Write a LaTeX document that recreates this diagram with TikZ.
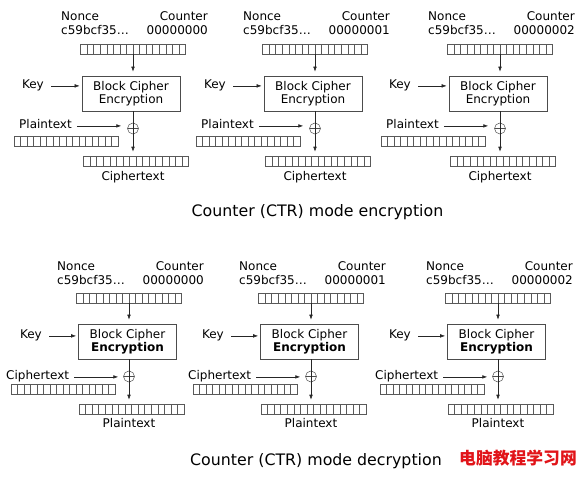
\documentclass[tikz,border=0pt]{standalone}
\usepackage{fontspec}
\setmainfont{DejaVu Sans}
\newfontfamily\cjkfont{Noto Sans CJK SC}
\usetikzlibrary{
    arrows.meta,
    calc,
    positioning
}
\newcommand{\lblfont}{\fontsize{12}{13.5}\selectfont}
\newcommand{\ttlfont}{\fontsize{15.8}{18}\selectfont}

\tikzset{
  lbl/.style={inner sep=0pt, font=\lblfont, text height=8.7pt, text depth=2.5pt},
  cellrow/.style={draw=black!65, line width=0.5pt, minimum width=105pt,
    minimum height=10pt, inner sep=0pt,
    path picture={
      \foreach \j in {1,...,15}{
        \draw[black!65, line width=0.45pt]
          ($(path picture bounding box.south west)!\j/16!(path picture bounding box.south east)$)
          -- ($(path picture bounding box.north west)!\j/16!(path picture bounding box.north east)$);
      }
    }},
  cipherbox/.style={draw=black!70, line width=0.6pt, minimum width=98pt,
    minimum height=35pt, inner sep=0pt, align=center, font=\lblfont},
  xorc/.style={circle, draw=black!70, line width=0.5pt, minimum size=11pt, inner sep=0pt,
    path picture={\draw[black!70, line width=0.5pt]
      (path picture bounding box.west) -- (path picture bounding box.east);}},
  arr/.style={-{Latex[length=5pt,width=3.6pt]}, line width=0.55pt, black!85}
}

\begin{document}
\begin{tikzpicture}[x=1pt, y=-1pt]
\useasboundingbox (0,0) rectangle (584,478);

% encryption
\foreach \c/\n/\i in {133/00000000/1,315/00000001/2,500/00000002/3}{
  \node[lbl, anchor=base west] (nl-e\i) at (\c-72,21) {Nonce};
  \node[lbl, anchor=base west] (nv-e\i) at (\c-72,35) {c59bcf35\ldots};
  \node[lbl, anchor=base east] (cl-e\i) at (\c+75,21) {Counter};
  \node[lbl, anchor=base east] (cv-e\i) at (\c+75,35) {\n};
  \node[cellrow] (ctr-e\i) at (\c,49) {};
  \node[cipherbox] (box-e\i) at (\c-2,93.5) {Block Cipher\\Encryption};
  \node[lbl, anchor=base east] (key-e\i) at (\c-89,89) {Key};
  \node[xorc] (xor-e\i) at (\c,128.5) {};
  \node[lbl, anchor=base west] (in-e\i) at (\c-114,129) {Plaintext};
  \node[cellrow, minimum width=104pt] (ins-e\i) at (\c-67,141.5) {};
  \node[cellrow] (outs-e\i) at (\c+3,161) {};
  \node[lbl, anchor=base] (out-e\i) at (\c,181) {Ciphertext};
  \draw[arr, shorten >=4pt] (ctr-e\i.south -| xor-e\i) -- (box-e\i.north -| xor-e\i);
  \draw[arr, shorten <=7pt, shorten >=2pt] (key-e\i.east) -- (key-e\i.east -| box-e\i.west);
  \draw[arr, shorten <=5pt, shorten >=6pt] (in-e\i.east) -- (in-e\i.east -| xor-e\i.west);
  \draw[arr, shorten >=4pt] (box-e\i.south -| xor-e\i) -- (outs-e\i.north -| xor-e\i);
}
\node[font=\ttlfont, anchor=base] (ttl-e) at (317.5,217) {Counter (CTR) mode encryption};

% decryption
\foreach \c/\n/\i in {129/00000000/1,311/00000001/2,498/00000002/3}{
  \node[lbl, anchor=base west] (nl-d\i) at (\c-72,271) {Nonce};
  \node[lbl, anchor=base west] (nv-d\i) at (\c-72,285) {c59bcf35\ldots};
  \node[lbl, anchor=base east] (cl-d\i) at (\c+75,271) {Counter};
  \node[lbl, anchor=base east] (cv-d\i) at (\c+75,285) {\n};
  \node[cellrow] (ctr-d\i) at (\c,298) {};
  \node[cipherbox] (box-d\i) at (\c-1.5,341.5) {Block Cipher\\\textbf{Encryption}};
  \node[lbl, anchor=base east] (key-d\i) at (\c-87,339) {Key};
  \node[xorc] (xor-d\i) at (\c,376.5) {};
  \node[lbl, anchor=base west] (in-d\i) at (\c-123,380) {Ciphertext};
  \node[cellrow, minimum width=104pt] (ins-d\i) at (\c-66,389) {};
  \node[cellrow] (outs-d\i) at (\c+2.5,409) {};
  \node[lbl, anchor=base] (out-d\i) at (\c,428) {Plaintext};
  \draw[arr, shorten >=4pt] (ctr-d\i.south -| xor-d\i) -- (box-d\i.north -| xor-d\i);
  \draw[arr, shorten <=7pt, shorten >=2pt] (key-d\i.east) -- (key-d\i.east -| box-d\i.west);
  \draw[arr, shorten <=5pt, shorten >=5pt] (in-d\i.east) -- (in-d\i.east -| xor-d\i.west);
  \draw[arr, shorten >=4pt] (box-d\i.south -| xor-d\i) -- (outs-d\i.north -| xor-d\i);
}
\node[font=\ttlfont, anchor=base] (ttl-d) at (316,465) {Counter (CTR) mode decryption};

\node[font=\cjkfont\bfseries\fontsize{16.8}{18}\selectfont, text={rgb,255:red,225;green,20;blue,25}]
  (mark) at (518,458) {电脑教程学习网};
\end{tikzpicture}
\end{document}
